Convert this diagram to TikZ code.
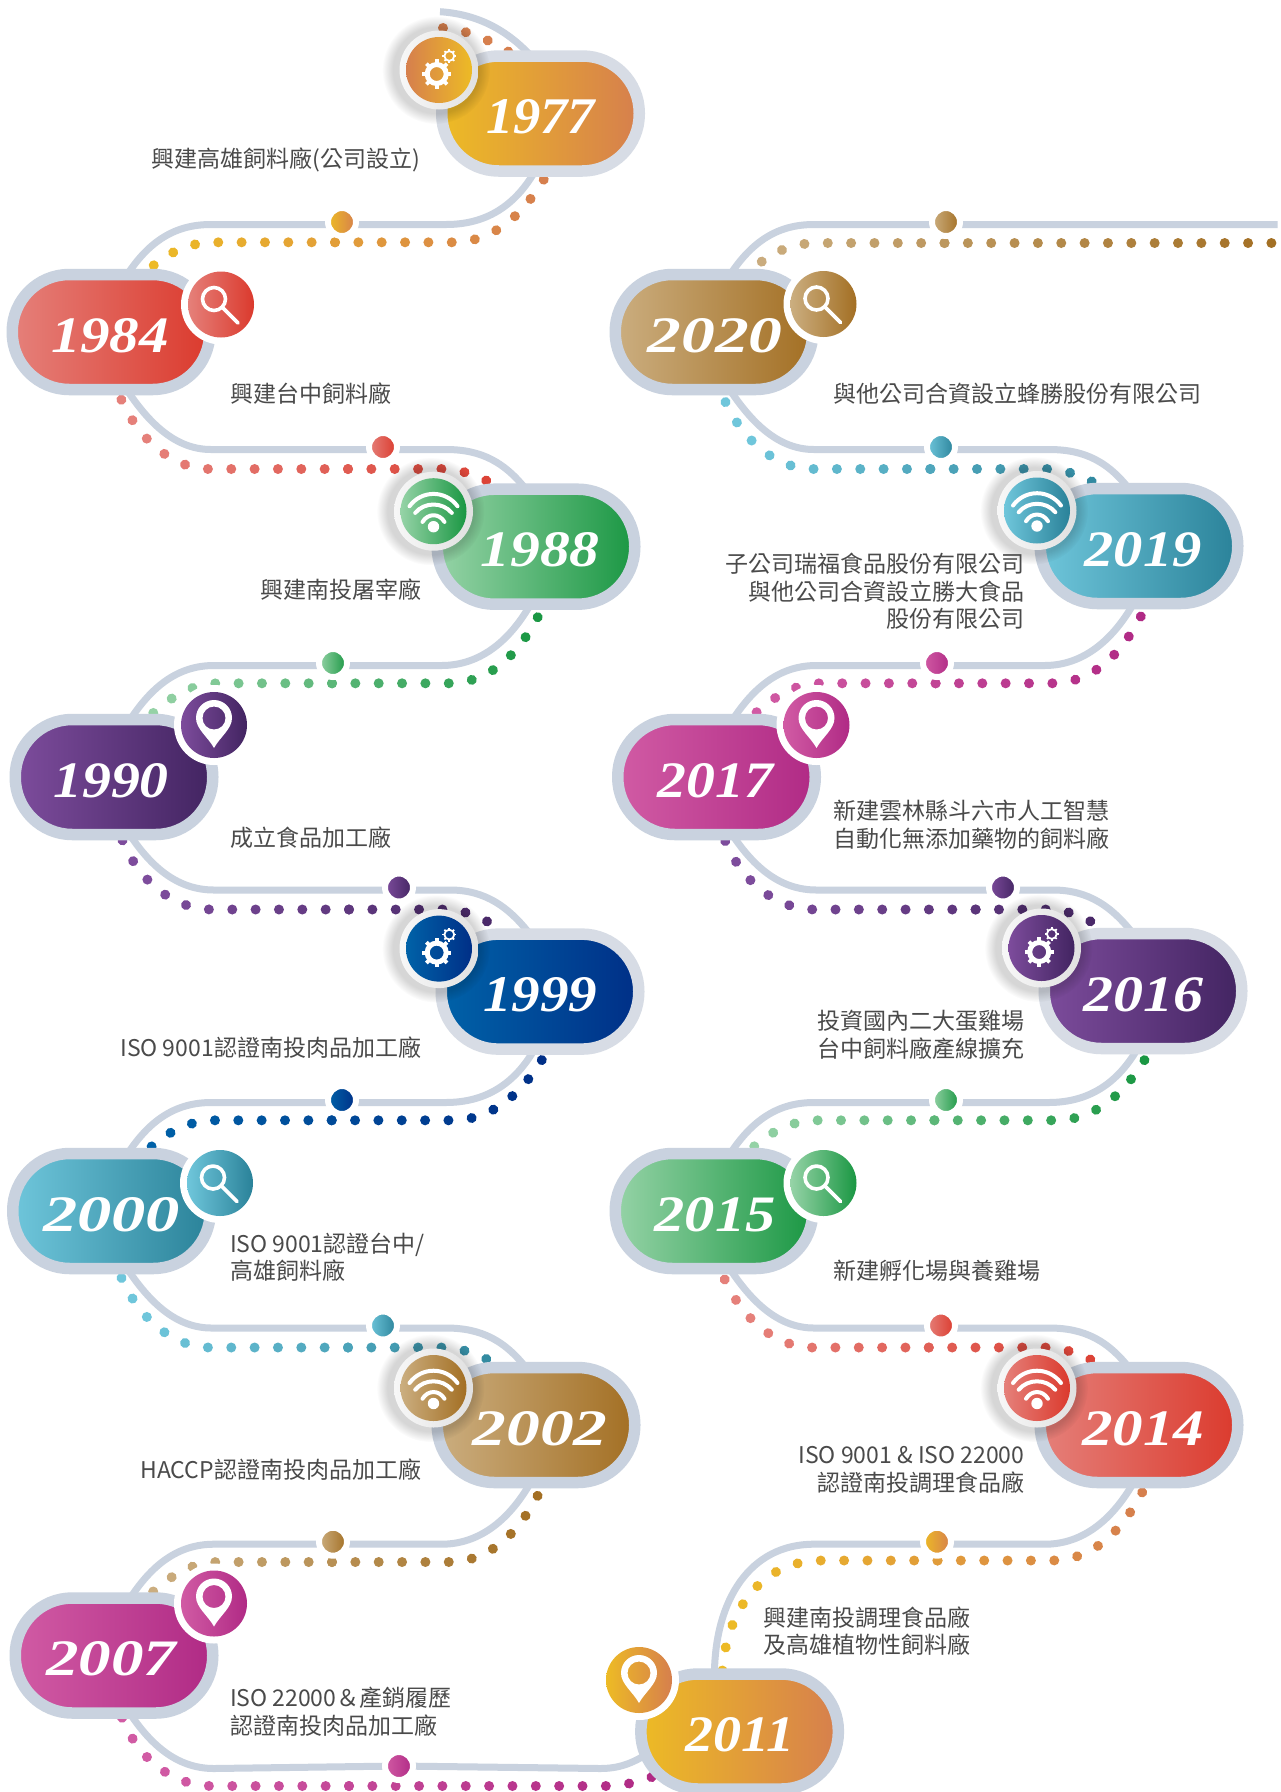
\documentclass[tikz,border=0pt]{standalone}
\usepackage{fontspec}
\usepackage{graphicx}
\usetikzlibrary{calc,decorations.markings,fadings}
\newfontfamily\cjk{Noto Sans CJK TC}
\newfontfamily\yr{Liberation Serif}
\definecolor{orA}{HTML}{EDBB25}\definecolor{orB}{HTML}{D67F4D}
\definecolor{reA}{HTML}{E5807A}\definecolor{reB}{HTML}{DB3A2D}
\definecolor{grA}{HTML}{96D3A7}\definecolor{grB}{HTML}{1A9743}
\definecolor{puA}{HTML}{7D4C9C}\definecolor{puB}{HTML}{422461}
\definecolor{blA}{HTML}{0062A8}\definecolor{blB}{HTML}{002F87}
\definecolor{teA}{HTML}{6FC6DB}\definecolor{teB}{HTML}{2A8299}
\definecolor{brA}{HTML}{CBAE80}\definecolor{brB}{HTML}{A36F23}
\definecolor{maA}{HTML}{D15BA4}\definecolor{maB}{HTML}{B02A85}
\definecolor{railc}{HTML}{C9D2DF}
\definecolor{raill}{HTML}{D7DCE5}
\definecolor{txt}{HTML}{4A4A4A}
\pgfdeclarelayer{back}
\pgfsetlayers{back,main}
\newdimen\dotx
\def\xL{0pt}\def\xR{400pt}
\def\pillrail{railc}
\tikzset{
 rail/.style={draw=railc,line width=7pt},
 dotrun/.style 2 args={decorate,decoration={markings,
   mark=between positions 0 and 1 step 23.35pt with {
     \pgfextractx{\dotx}{\pgfpointtransformed{\pgfpointorigin}}%
     \pgfmathsetmacro\pct{max(0,min(100,100*((\dotx-\xL)/(\xR-\xL))))}%
     \fill[color=#2!\pct!#1] (0,0) circle (5pt);}}},
 pillbox/.style 2 args={draw=\pillrail,line width=11.5pt,left color=#1,right color=#2,
   rounded corners=57pt,minimum width=197.5pt,minimum height=115pt,inner sep=0pt,outer sep=0pt,
   text=white,font=\yr\bfseries\itshape\fontsize{52}{52}\selectfont},
 mid/.style 2 args={circle,draw=white,line width=6pt,left color=#1,right color=#2,minimum size=28pt,inner sep=0pt,outer sep=0pt},
 badge/.style 2 args={circle,left color=#1,right color=#2,minimum size=66pt,inner sep=0pt,outer sep=0pt},
 lbl/.style={text=txt,font=\cjk\fontsize{23}{27.4}\selectfont,inner sep=0pt,outer sep=0pt},
 lblR/.style={lbl,align=right,anchor=east},
 lblL/.style={lbl,align=left,anchor=west},
 glyph/.style={draw=white,line cap=round,line join=round},
}
% #1 year #2 x #3 y #4 #5 colours #6 text width #7 text shift
\newcommand{\pill}[7]{\node[pillbox={#4}{#5}] (y#1) at (#2,#3) {\kern#7pt\raisebox{-3pt}[34pt][0pt]{\resizebox{#6pt}{34pt}{#1}}\kern-#7pt};}
\newcommand{\midnode}[5]{\node[mid={#4}{#5}] (#1) at (#2,#3) {};}
% icons
\newcommand{\icgear}[1]{\begin{scope}[shift={(#1.center)}]
 \begin{scope}[shift={(-2.3,4)}]
 \draw[white,line width=5pt] (0,0) circle (9.5pt);
 \foreach \a in {0,45,...,315}{\draw[white,line width=3.8pt] (\a:10pt) -- (\a:14.6pt);}
 \end{scope}
 \begin{scope}[shift={(10.3,-14)}]
 \draw[white,line width=1.8pt] (0,0) circle (4.9pt);
 \foreach \a in {0,45,...,315}{\draw[white,line width=1.7pt] (\a:5pt) -- (\a:6.9pt);}
 \end{scope}
 \end{scope}}
\newcommand{\icsearch}[1]{\begin{scope}[shift={(#1.center)}]
 \draw[glyph,line width=3.6pt] (-7,-5.5) circle (11.5pt);
 \draw[glyph,line width=3.6pt] (1.2,2.7) -- (17,18.5);
 \end{scope}}
\newcommand{\icwifi}[1]{\begin{scope}[shift={(#1.center)}]
 \draw[glyph,line width=4pt] (-24,-5) .. controls (-12,-21.4) and (12,-21.4) .. (24,-5);
 \draw[glyph,line width=4pt] (-18.3,1.7) .. controls (-9,-9.5) and (9,-9.5) .. (18.3,1.7);
 \draw[glyph,line width=4pt] (-11,10.7) .. controls (-5.5,1.8) and (5.5,1.8) .. (11,10.7);
 \fill[white] (0,15.5) circle (5.7pt);
 \end{scope}}
\newcommand{\icpin}[1]{\begin{scope}[shift={(#1.center)}]
 \fill[white,even odd rule] (-18,-7) .. controls (-18,-17) and (-10,-25) .. (0,-25) .. controls (10,-25) and (18,-17) .. (18,-7) .. controls (18,4) and (6,12) .. (0,23) .. controls (-6,12) and (-18,4) .. (-18,-7) -- cycle
   (-11.5,-7) .. controls (-11.5,-13.4) and (-6.4,-18.5) .. (0,-18.5) .. controls (6.4,-18.5) and (11.5,-13.4) .. (11.5,-7) .. controls (11.5,-0.6) and (6.4,4.5) .. (0,4.5) .. controls (-6.4,4.5) and (-11.5,-0.6) .. (-11.5,-7) -- cycle;
 \end{scope}}
\newcommand{\badgeplain}[6]{\coordinate (c#1) at ($(y#1)+(#2,#3)$);
 \fill[white] (c#1) circle (40pt);
 \node[badge={#5}{#6}] (i#1) at (c#1) {};
 \csname ic#4\endcsname{i#1}}
\newcommand{\badgeshadow}[6]{\coordinate (c#1) at ($(y#1)+(#2,#3)$);
 \fill[black,opacity=.16,path fading=circle with fuzzy edge 20 percent] ($(c#1)+(-3,0)$) circle (54pt);
 \shade[left color=white!97!black,right color=black!12] (c#1) circle (39.5pt);
 \node[badge={#5}{#6}] (i#1) at (c#1) {};
 \csname ic#4\endcsname{i#1}}
\newcommand{\getends}[2]{\pgfpointanchor{#1}{center}\pgfgetlastxy{\xa}{\xdummy}\pgfmathsetmacro\xL{\xa+35}\edef\xL{\xL pt}%
 \pgfpointanchor{#2}{center}\pgfgetlastxy{\xa}{\xdummy}\edef\xR{\xa}}
% connector, upper pill on the right, lower pill on the left; #6 x of a dot in the row
\newcommand{\connD}[6]{%
 \coordinate (gr) at ($(#3)+(0,2.5)$);\coordinate (dr) at ($(#3)+(0,20.3)$);\coordinate (drt) at ($(dr)+(0,-30)$);
 \coordinate (a1) at ($(#1)+(65,0)$);\coordinate (a2) at ($(#1)+(100,0)$);
 \coordinate (a3) at ($(#2)+(-94.5,0)$);\coordinate (a4) at ($(#2)+(-55,0)$);
 \coordinate (b1) at ($(#1)+(80,0)$);\coordinate (b2) at ($(#1)+(105,0)$);
 \coordinate (b3) at ($(#2)+(-88.5,0)$);\coordinate (b4) at ($(#2)+(-45,0)$);\coordinate (b5) at ($(#2)+(-15,0)$);
 \coordinate (ax) at (#6,0);
 \begin{pgfonlayer}{back}
 \getends{#1}{#2}
 \draw[rail] ($(#1)+(14,-54)$) .. controls ($(#1)+(38,-92)$) and (a1|-gr) .. (a2|-gr) -- (a3|-gr)
   .. controls (a4|-gr) and ($(#2)+(-25,93)$) .. ($(#2)+(-4,55)$);
 \path[dotrun={#4}{#5}] (ax|-dr) -- (b2|-dr) .. controls (b1|-dr) and ($(#1)+(55,-82)$) .. ($(#1)+(25,-50)$);
 \path[dotrun={#4}{#5}] (ax|-dr) -- (b3|-dr) .. controls (b4|-dr) and (b5|-drt) .. ($(#2)+(8,58)$);
 \end{pgfonlayer}}
% connector, upper pill on the left, lower pill on the right
\newcommand{\connU}[6]{%
 \coordinate (gr) at ($(#3)+(0,2.5)$);\coordinate (dr) at ($(#3)+(0,22)$);
 \coordinate (a1) at ($(#1)+(65,0)$);\coordinate (a2) at ($(#1)+(100,0)$);
 \coordinate (a3) at ($(#2)+(-90,0)$);\coordinate (a4) at ($(#2)+(-55,0)$);
 \coordinate (b1) at ($(#1)+(60,0)$);\coordinate (b2) at ($(#1)+(99,0)$);
 \coordinate (b3) at ($(#2)+(-94.5,0)$);\coordinate (b4) at ($(#2)+(-65,0)$);
 \coordinate (ax) at (#6,0);
 \begin{pgfonlayer}{back}
 \getends{#1}{#2}
 \draw[rail] ($(#1)+(14,55)$) .. controls ($(#1)+(38,92)$) and (a1|-gr) .. (a2|-gr) -- (a3|-gr)
   .. controls (a4|-gr) and ($(#2)+(-30,-85)$) .. ($(#2)+(-6,-52)$);
 \path[dotrun={#4}{#5}] (ax|-dr) -- (b2|-dr) .. controls (b1|-dr) and ($(#1)+(25,105)$) .. ($(#1)+(8,62)$);
 \path[dotrun={#4}{#5}] (ax|-dr) -- (b3|-dr) .. controls (b4|-dr) and ($(#2)+(-30,-60)$) .. ($(#2)+(-12,-35)$);
 \end{pgfonlayer}}
\begin{document}
\begin{tikzpicture}[x=1pt,y=-1pt]
\useasboundingbox (0,0) rectangle (1281,1792);
\begin{pgfonlayer}{back}\fill[white] (0,0) rectangle (1281,1792);\end{pgfonlayer}
% pills
\def\pillrail{raill}
\pill{1977}{540.5}{113.5}{orA}{orB}{109}{0}
\def\pillrail{railc}
\pill{1984}{111}{332}{reA}{reB}{118}{-1}
\pill{1988}{536}{546.7}{grA}{grB}{119}{4}
\pill{1990}{114}{777}{puA}{puB}{115.5}{-3}
\def\pillrail{raill}
\pill{1999}{540}{991.6}{blA}{blB}{114}{0}
\def\pillrail{railc}
\pill{2000}{111.5}{1211}{teA}{teB}{137}{0}
\pill{2002}{536}{1425}{brA}{brB}{135}{4}
\pill{2007}{114}{1655.5}{maA}{maB}{130}{-3}
\pill{2011}{739.6}{1731.5}{orA}{orB}{109}{0}
\pill{2020}{714}{332}{brA}{brB}{135}{1}
\pill{2019}{1139}{546}{teA}{teB}{117}{4}
\pill{2017}{716.5}{777}{maA}{maB}{115.5}{-1}
\def\pillrail{raill}
\pill{2016}{1143}{991}{puA}{puB}{120}{0}
\def\pillrail{railc}
\pill{2015}{714}{1211}{grA}{grB}{121}{1}
\pill{2014}{1139}{1425}{reA}{reB}{122}{4}
% mid dots
\midnode{m1}{342}{222}{orA}{orB}
\midnode{m2}{383}{447}{reA}{reB}
\midnode{m3}{333}{663}{grA}{grB}
\midnode{m4}{399}{887.5}{puA}{puB}
\midnode{m5}{342}{1100}{blA}{blB}
\midnode{m6}{383}{1325.5}{teA}{teB}
\midnode{m7}{333}{1541.7}{brA}{brB}
\midnode{m8}{399}{1766}{maA}{maB}
\midnode{n0}{946}{222}{brA}{brB}
\midnode{n1}{941}{447}{teA}{teB}
\midnode{n2}{937}{663}{maA}{maB}
\midnode{n3}{1003}{887.5}{puA}{puB}
\midnode{n4}{946}{1100}{grA}{grB}
\midnode{n5}{941}{1325.5}{reA}{reB}
\midnode{n6}{937}{1541.7}{orA}{orB}
% connectors
\connD{y1984}{y1977}{m1}{orA}{orB}{335}
\connU{y1984}{y1988}{m2}{reA}{reB}{348}
\connD{y1990}{y1988}{m3}{grA}{grB}{332}
\connU{y1990}{y1999}{m4}{puA}{puB}{349}
\connD{y2000}{y1999}{m5}{blA}{blB}{331.7}
\connU{y2000}{y2002}{m6}{teA}{teB}{348}
\connD{y2007}{y2002}{m7}{brA}{brB}{332}
\connU{y2020}{y2019}{n1}{teA}{teB}{930.3}
\connD{y2017}{y2019}{n2}{maA}{maB}{935.6}
\connU{y2017}{y2016}{n3}{puA}{puB}{975.6}
\connD{y2015}{y2016}{n4}{grA}{grB}{934.4}
\connU{y2015}{y2014}{n5}{reA}{reB}{928.8}
% free ends and special connectors
\coordinate (topstart) at (440,11.7);
\coordinate (rightend) at (1277.5,224.5);
\coordinate (rightdot) at (1272,243);
\begin{pgfonlayer}{back}
\draw[rail] (topstart) .. controls (475,14) and (505,28) .. ($(y1977)+(-10,-58)$);
\begingroup\def\xL{0pt}\def\xR{400pt}
\path[dotrun={orA}{orB}] (443,28) .. controls (470,30) and (500,43) .. ($(y1977)+(-5,-43)$);
\endgroup
% 2007 to 2011
\draw[rail] ($(y2007)+(14,55)$) .. controls ($(y2007)+(38,92)$) and (179,1768.5) .. (214,1768.5) -- (m8)
  -- (600,1768.5) .. controls (618,1768.5) and (632,1764) .. (650,1752);
\begingroup\def\xL{149pt}\def\xR{650pt}
\path[dotrun={maA}{maB}] (349,1786) -- (213,1786) .. controls (174,1786) and ($(y2007)+(25,105)$) .. ($(y2007)+(8,62)$);
\path[dotrun={maA}{maB}] (349,1786) -- (604,1786) .. controls (625,1786) and (645,1781) .. ($(y2011)+(-70,38)$);
\endgroup
% 2014 to 2011
\draw[rail] ($(y2011)+(-25.2,-55)$) .. controls (714.4,1600) and (750,1544) .. (814,1544.2) -- (1045,1544.2)
  .. controls (1084,1544.2) and (1114,1518) .. ($(y2014)+(-4,55)$);
\begingroup\def\xL{722pt}\def\xR{1139pt}
\path[dotrun={orA}{orB}] (937.5,1560.5) -- (822,1560.5) .. controls (755,1560.5) and (723,1620) .. (722,1680);
\path[dotrun={orA}{orB}] (937.5,1560.5) -- ($(y2014)+(-88.5,135.5)$)
  .. controls ($(y2014)+(-45,135.5)$) and ($(y2014)+(-15,105)$) .. ($(y2014)+(8,58)$);
\endgroup
% 2020 to the right edge
\draw[rail] ($(y2020)+(14,-54)$) .. controls ($(y2020)+(38,-92)$) and (779,224.5) .. (814,224.5) -- (rightend);
\begingroup\def\xL{749pt}\def\xR{1277pt}
\path[dotrun={brA}{brB}] (944.5,243) -- (819,243) .. controls (794,243) and ($(y2020)+(55,-82)$) .. ($(y2020)+(25,-50)$);
\path[dotrun={brA}{brB}] (944.5,243) -- (rightdot);
\endgroup
\end{pgfonlayer}
% badges
\badgeshadow{1977}{-101.5}{-43.5}{gear}{orB}{orA}
\badgeplain{1984}{110}{-27.5}{search}{reA}{reB}
\badgeshadow{1988}{-102.5}{-35.5}{wifi}{grA}{grB}
\badgeplain{1990}{100}{-52}{pin}{puA}{puB}
\badgeshadow{1999}{-101}{-43}{gear}{blA}{blB}
\badgeplain{2000}{108.5}{-28}{search}{teA}{teB}
\badgeshadow{2002}{-102.5}{-37}{wifi}{brA}{brB}
\badgeplain{2007}{100}{-52}{pin}{maA}{maB}
\badgeplain{2011}{-100.6}{-51.5}{pin}{orA}{orB}
\badgeplain{2020}{109.5}{-28}{search}{brA}{brB}
\badgeshadow{2019}{-102}{-35.5}{wifi}{teA}{teB}
\badgeplain{2017}{100}{-52}{pin}{maA}{maB}
\badgeshadow{2016}{-101.5}{-43}{gear}{puA}{puB}
\badgeplain{2015}{109.5}{-28}{search}{grA}{grB}
\badgeshadow{2014}{-102}{-37}{wifi}{reA}{reB}
% labels
\node[lblR] (t1977) at (420.5,160) {興建高雄飼料廠(公司設立)};
\node[lblL] (t1984) at (230,393.5) {興建台中飼料廠};
\node[lblR] (t1988) at (421,590) {興建南投屠宰廠};
\node[lblL] (t1990) at (230,838) {成立食品加工廠};
\node[lblR] (t1999) at (421,1048) {ISO 9001認證南投肉品加工廠};
\node[lblL] (t2000) at (230,1257) {ISO 9001認證台中/\\高雄飼料廠};
\node[lblR] (t2002) at (421,1470) {HACCP認證南投肉品加工廠};
\node[lblL] (t2007) at (230,1711.5) {ISO 22000＆產銷履歷\\認證南投肉品加工廠};
\node[lblL] (t2020) at (833.5,393.5) {與他公司合資設立蜂勝股份有限公司};
\node[lblR] (t2019) at (1024.5,591.5) {子公司瑞福食品股份有限公司\\與他公司合資設立勝大食品\\股份有限公司};
\node[lblL] (t2017) at (833.5,824.5) {新建雲林縣斗六市人工智慧\\自動化無添加藥物的飼料廠};
\node[lblR] (t2016) at (1024.5,1035) {投資國內二大蛋雞場\\台中飼料廠產線擴充};
\node[lblL] (t2015) at (833.5,1270.6) {新建孵化場與養雞場};
\node[lblR] (t2014) at (1024.5,1470) {ISO 9001 \& ISO 22000\\認證南投調理食品廠};
\node[lblL] (t2011) at (763.5,1631) {興建南投調理食品廠\\及高雄植物性飼料廠};
\end{tikzpicture}
\end{document}
